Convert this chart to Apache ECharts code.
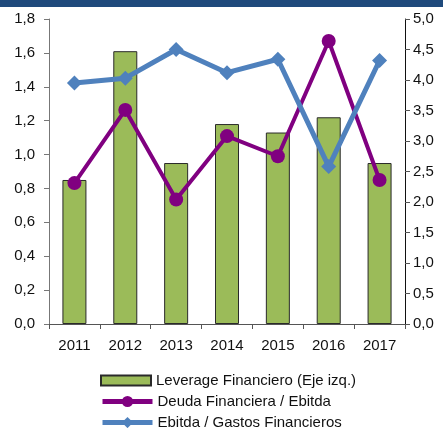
<!DOCTYPE html>
<html>
<head>
<meta charset="utf-8">
<script src="https://cdn.jsdelivr.net/npm/echarts@6/dist/echarts.min.js"></script>
<style>
  html, body { margin: 0; padding: 0; background: #fff; }
  #chart { width: 443px; height: 428px; }
</style>
</head>
<body>
<div id="chart"></div>
<script>
const years = ['2011', '2012', '2013', '2014', '2015', '2016', '2017'];
const leverage = [0.85, 1.61, 0.95, 1.18, 1.13, 1.22, 0.95];
const deudaEbitda = [2.31, 3.51, 2.04, 3.08, 2.75, 4.64, 2.36];
const ebitdaGastos = [3.95, 4.03, 4.50, 4.12, 4.34, 2.58, 4.32];
const seriesNames = ['Leverage Financiero (Eje izq.)', 'Deuda Financiera / Ebitda', 'Ebitda / Gastos Financieros'];

const chart = echarts.init(document.getElementById('chart'));
const font = 'Liberation Sans, Arial, sans-serif';
const fmt = v => v.toFixed(1).replace('.', ',');

// one legend per row so each can be placed exactly
const legendRow = (name, top, extra) => Object.assign({
  left: 100,
  top: top,
  itemWidth: 50,
  itemHeight: 14,
  itemGap: 0,
  padding: 0,
  lineStyle: { width: 5 },
  textStyle: { fontSize: 15, color: '#111', fontFamily: font },
  data: [name]
}, extra);

const option = {
  animation: false,
  textStyle: { fontFamily: font },
  graphic: [
    { type: 'rect', shape: { x: 0, y: 0, width: 443, height: 7 }, style: { fill: '#1f4a7c' } }
  ],
  grid: { left: 49, right: 38, top: 19, bottom: 104 },
  legend: [
    legendRow(seriesNames[0], 373, { itemHeight: 10, data: [{ name: seriesNames[0], icon: 'rect' }] }),
    legendRow(seriesNames[1], 394),
    legendRow(seriesNames[2], 415)
  ],
  xAxis: {
    type: 'category',
    data: years,
    axisLine: { lineStyle: { color: '#555' } },
    axisTick: { show: true, length: 5, lineStyle: { color: '#555' } },
    axisLabel: { fontSize: 15, color: '#111', margin: 14 }
  },
  yAxis: [
    {
      type: 'value', min: 0, max: 1.8, interval: 0.2,
      axisLine: { show: true, lineStyle: { color: '#777' } },
      axisTick: { show: true, length: 5, lineStyle: { color: '#777' } },
      splitLine: { show: false },
      axisLabel: { fontSize: 15, color: '#111', margin: 14, formatter: fmt }
    },
    {
      type: 'value', min: 0, max: 5, interval: 0.5, position: 'right',
      axisLine: { show: true, lineStyle: { color: '#111' } },
      axisTick: { show: true, length: 5, lineStyle: { color: '#555' } },
      splitLine: { show: false },
      axisLabel: { fontSize: 15, color: '#111', margin: 8, formatter: fmt }
    }
  ],
  series: [
    {
      name: seriesNames[0],
      type: 'bar',
      data: leverage,
      barWidth: 24,
      itemStyle: { color: '#9bbb59', borderColor: '#2a2a2a', borderWidth: 1 }
    },
    {
      name: seriesNames[1],
      type: 'line',
      yAxisIndex: 1,
      data: deudaEbitda,
      symbol: 'circle',
      symbolSize: 14,
      lineStyle: { color: '#800080', width: 4 },
      itemStyle: { color: '#800080' }
    },
    {
      name: seriesNames[2],
      type: 'line',
      yAxisIndex: 1,
      data: ebitdaGastos,
      symbol: 'diamond',
      symbolSize: 15,
      lineStyle: { color: '#4f81bd', width: 5 },
      itemStyle: { color: '#4f81bd' }
    }
  ]
};

chart.setOption(option);
</script>
</body>
</html>
